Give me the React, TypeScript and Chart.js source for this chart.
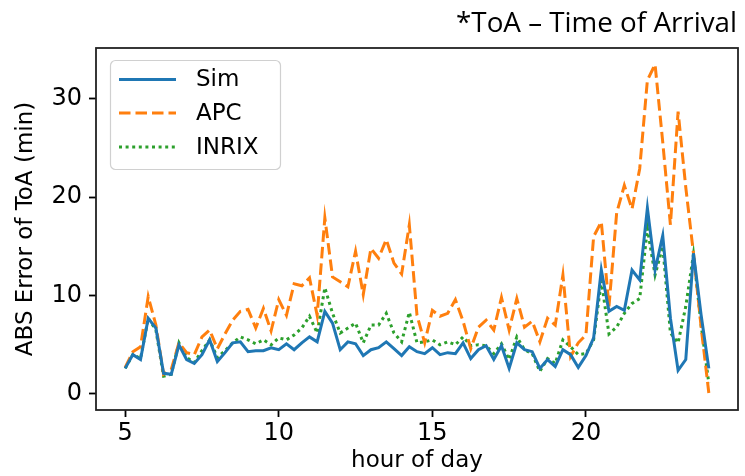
import React, { useEffect, useRef } from "react";
import { Chart, registerables } from "chart.js";

Chart.register(...registerables);

const hours = [
  5, 5.25, 5.5, 5.75, 6, 6.25, 6.5, 6.75, 7, 7.25, 7.5, 7.75, 8, 8.25, 8.5, 8.75,
  9, 9.25, 9.5, 9.75, 10, 10.25, 10.5, 10.75, 11, 11.25, 11.5, 11.75, 12, 12.25, 12.5, 12.75,
  13, 13.25, 13.5, 13.75, 14, 14.25, 14.5, 14.75, 15, 15.25, 15.5, 15.75, 16, 16.25, 16.5, 16.75,
  17, 17.25, 17.5, 17.75, 18, 18.25, 18.5, 18.75, 19, 19.25, 19.5, 19.75, 20, 20.25, 20.5, 20.75,
  21, 21.25, 21.5, 21.75, 22, 22.25, 22.5, 22.75, 23, 23.25, 23.5, 23.75, 24,
];

const simValues = [
  2.6, 4.0, 3.5, 7.7, 6.7, 2.1, 2.0, 5.0, 3.5, 3.1, 4.0, 5.5, 3.3, 4.2, 5.2, 5.3,
  4.3, 4.4, 4.4, 4.7, 4.5, 5.1, 4.5, 5.2, 5.8, 5.3, 8.4, 7.2, 4.5, 5.3, 5.1, 3.9,
  4.5, 4.7, 5.3, 4.6, 3.9, 4.8, 4.3, 4.1, 4.7, 4.0, 4.2, 4.1, 5.2, 3.6, 4.5, 4.9,
  3.5, 4.9, 2.6, 5.2, 4.5, 4.3, 2.6, 3.5, 2.8, 4.5, 4.0, 2.7, 3.9, 5.7, 12.6, 8.4,
  8.9, 8.5, 12.6, 11.6, 18.9, 12.6, 16.1, 7.7, 2.4, 3.5, 14.3, 8.0, 2.6,
];

const apcValues = [
  2.7, 4.3, 4.8, 9.9, 7.0, 2.0, 2.5, 5.2, 4.2, 4.0, 5.8, 6.5, 4.6, 6.1, 7.5, 8.4,
  8.6, 6.7, 8.7, 6.4, 9.6, 8.0, 11.2, 11.0, 11.8, 8.0, 17.9, 11.9, 11.4, 10.9, 14.5, 10.1,
  14.8, 13.8, 15.7, 13.3, 12.2, 17.2, 8.0, 5.2, 8.5, 7.9, 8.2, 9.6, 7.4, 4.6, 6.8, 7.5,
  6.5, 9.8, 6.5, 9.7, 6.8, 7.4, 5.3, 7.7, 7.0, 12.1, 3.8, 5.2, 6.0, 16.0, 17.5, 8.9,
  18.4, 21.2, 18.8, 22.9, 31.9, 33.5, 25.6, 17.2, 28.7, 21.0, 14.3, 6.8, 0.1,
];

const inrixValues = [
  2.6, 4.0, 3.6, 7.7, 6.5, 1.8, 2.0, 5.2, 3.7, 3.2, 4.4, 5.5, 3.7, 4.4, 5.2, 5.8,
  5.5, 5.1, 5.5, 5.0, 5.7, 5.5, 6.0, 6.7, 7.9, 6.2, 10.8, 8.2, 6.2, 6.7, 7.2, 5.2,
  7.0, 7.0, 8.2, 6.2, 5.3, 8.3, 5.2, 5.3, 5.5, 5.0, 5.3, 5.0, 5.8, 4.9, 5.0, 4.9,
  4.1, 5.1, 3.5, 5.8, 4.5, 4.1, 2.3, 3.6, 3.1, 5.5, 4.8, 4.0, 4.1, 5.5, 11.5, 6.1,
  6.8, 8.2, 9.2, 9.7, 16.8, 12.1, 15.0, 6.2, 5.2, 8.9, 14.2, 7.0, 1.1,
];

const xTicks = [5, 10, 15, 20];
const yTicks = [0, 10, 20, 30];
const seriesNames = ["Sim", "APC", "INRIX"];
const seriesColors = ["#1f77b4", "#ff7f0e", "#2ca02c"];
const titleText = "*ToA \u2013 Time of Arrival";
const xLabel = "hour of day";
const yLabel = "ABS Error of ToA (min)";

const LW = 3;
const dashes: number[][] = [[], [11.5, 5], [3, 3.6]];

const tickFont = { family: "DejaVu Sans", size: 24 };
const labelFont = { family: "DejaVu Sans", size: 23 };

const framePlugin = {
  id: "frameAndLegend",
  afterDraw(chart: any) {
    const { ctx, chartArea: a } = chart;
    ctx.save();
    // frame
    ctx.strokeStyle = "#222";
    ctx.lineWidth = 1.8;
    ctx.strokeRect(a.left, a.top, a.right - a.left, a.bottom - a.top);

    // legend box
    const bx = 110.5, by = 60.5, bw = 170, bh = 109;
    ctx.beginPath();
    ctx.roundRect(bx, by, bw, bh, 5);
    ctx.fillStyle = "rgba(255,255,255,0.8)";
    ctx.fill();
    ctx.strokeStyle = "#d0d0d0";
    ctx.lineWidth = 1.2;
    ctx.stroke();

    const rows = [79.5, 113, 147];
    seriesNames.forEach((name, i) => {
      ctx.beginPath();
      ctx.setLineDash(dashes[i]);
      ctx.strokeStyle = seriesColors[i];
      ctx.lineWidth = LW;
      ctx.moveTo(119, rows[i]);
      ctx.lineTo(176, rows[i]);
      ctx.stroke();
      ctx.setLineDash([]);
      ctx.fillStyle = "#000";
      ctx.font = "23px 'DejaVu Sans'";
      ctx.textBaseline = "middle";
      ctx.textAlign = "left";
      ctx.fillText(name, 196, rows[i] + 1);
    });

    // title text, sized to span the reference width
    ctx.font = "24px 'Open Sans'";
    const w = ctx.measureText(titleText).width;
    const size = (24 * 281) / w;
    ctx.font = `${size.toFixed(2)}px 'Open Sans'`;
    ctx.textAlign = "right";
    ctx.textBaseline = "alphabetic";
    ctx.fillStyle = "#000";
    ctx.fillText(titleText, 737, 32);
    ctx.restore();
  },
};

export default function App() {
  const ref = useRef<HTMLCanvasElement | null>(null);

  useEffect(() => {
    if (!ref.current) return;
    const datasets = [simValues, apcValues, inrixValues].map((vals, i) => ({
      label: seriesNames[i],
      data: hours.map((h, j) => ({ x: h, y: vals[j] })),
      borderColor: seriesColors[i],
      backgroundColor: seriesColors[i],
      borderWidth: LW,
      borderDash: dashes[i],
      pointRadius: 0,
      tension: 0,
      fill: false,
    }));

    const chart = new Chart(ref.current, {
      type: "line",
      data: { datasets },
      options: {
        animation: false,
        responsive: false,
        maintainAspectRatio: false,
        layout: { padding: { top: 48, right: 7, bottom: 0, left: 0 } },
        plugins: {
          legend: { display: false },
          tooltip: { enabled: false },
          title: { display: false },
        },
        scales: {
          x: {
            type: "linear",
            min: 4.05,
            max: 24.95,
            afterBuildTicks: (s: any) => {
              s.ticks = xTicks.map((v) => ({ value: v }));
            },
            afterFit: (s: any) => {
              s.height = 66;
            },
            grid: {
              drawOnChartArea: false,
              drawTicks: true,
              tickLength: 7,
              tickWidth: 1.8,
              tickColor: "#000",
            },
            border: { display: false },
            ticks: {
              font: tickFont,
              color: "#000",
              padding: 2,
              maxRotation: 0,
              autoSkip: false,
              callback: (v: any) => String(v),
            },
            title: {
              display: true,
              text: xLabel,
              font: labelFont,
              color: "#000",
              padding: { top: 0, bottom: 1 },
            },
          },
          y: {
            type: "linear",
            min: -1.63,
            max: 35.17,
            afterBuildTicks: (s: any) => {
              s.ticks = yTicks.map((v) => ({ value: v }));
            },
            afterFit: (s: any) => {
              s.width = 96;
            },
            grid: {
              drawOnChartArea: false,
              drawTicks: true,
              tickLength: 7,
              tickWidth: 1.8,
              tickColor: "#000",
            },
            border: { display: false },
            ticks: {
              font: tickFont,
              color: "#000",
              padding: 7,
              autoSkip: false,
              callback: (v: any) => String(v),
            },
            title: {
              display: true,
              text: yLabel,
              font: labelFont,
              color: "#000",
              padding: { top: 12, bottom: 0 },
            },
          },
        },
      },
      plugins: [framePlugin],
    });
    return () => chart.destroy();
  }, []);

  return (
    <div style={{ position: "fixed", left: 0, top: 0, width: 745, height: 476, background: "#fff" }}>
      <canvas ref={ref} width={745} height={476} style={{ width: 745, height: 476, display: "block" }} />
    </div>
  );
}
